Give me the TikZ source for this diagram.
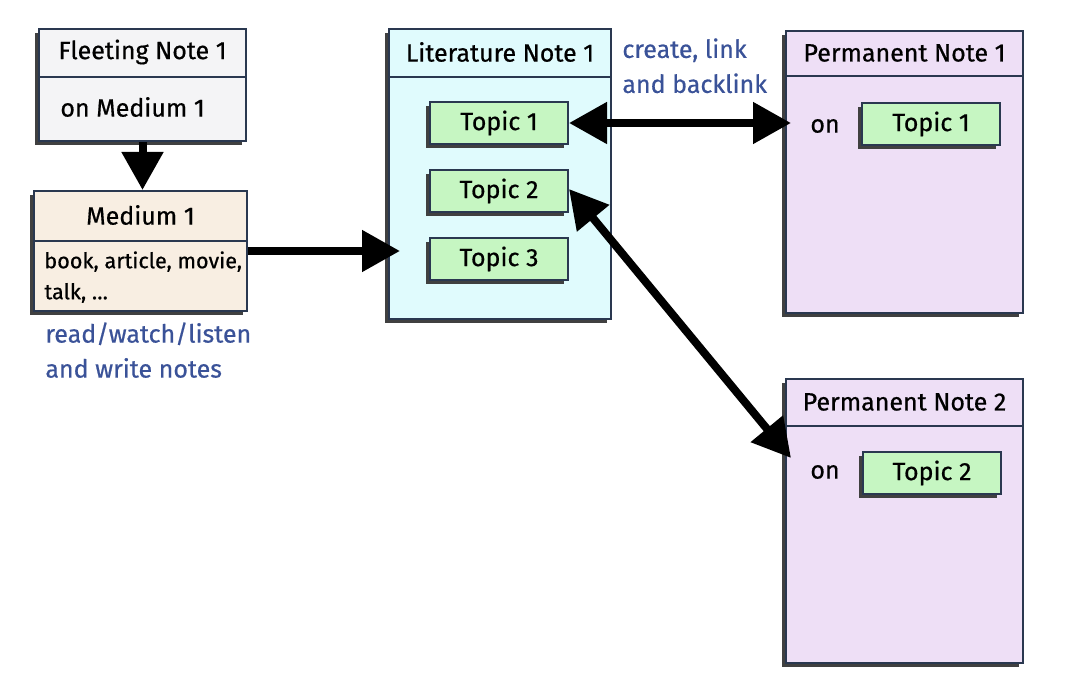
\documentclass[tikz,border=0pt]{standalone}
\usepackage{fontspec}
\setmainfont{Fira Sans}[FakeBold=0.6]
\usepackage{xcolor}
\usepackage{tikz}
\usetikzlibrary{arrows.meta, positioning, shadows}

\definecolor{boxline}{HTML}{2A3850}
\definecolor{fleetfill}{HTML}{F4F4F6}
\definecolor{mediumfill}{HTML}{F8EEE2}
\definecolor{litfill}{HTML}{E0FBFD}
\definecolor{permfill}{HTML}{EEDFF6}
\definecolor{topicgreen}{HTML}{C6F6C2}
\definecolor{noteblue}{HTML}{3A5298}
\definecolor{shadowgray}{HTML}{404040}

\begin{document}
\begin{tikzpicture}[
    x=0.5pt, y=-0.5pt,
    node distance=12pt,
    font=\fontsize{12.5}{16}\selectfont,
    notebox/.style={draw=boxline, line width=1pt, anchor=north west, inner sep=0pt,
        drop shadow={shadow xshift=-2pt, shadow yshift=-2pt, opacity=1, fill=shadowgray}},
    topicbox/.style={draw=boxline, line width=1pt, fill=topicgreen, minimum width=69pt, minimum height=21pt, inner sep=0pt,
        drop shadow={shadow xshift=-2pt, shadow yshift=-2pt, opacity=1, fill=shadowgray}},
    headline/.style={draw=boxline, line width=1pt},
    bluetext/.style={text=noteblue, align=left, anchor=north west, inner sep=0pt, font=\fontsize{12.5}{17.5}\selectfont},
    arr/.style={line width=4pt, -{Triangle[length=19pt, width=20pt]}},
    darr/.style={line width=4pt, {Triangle[length=19pt, width=20pt]}-{Triangle[length=19pt, width=20pt]}},
]
\useasboundingbox (0,0) rectangle (1083,690);

% Fleeting note
\node[notebox, fill=fleetfill, minimum width=103.5pt, minimum height=56pt] (fleet) at (38,28) {};
\draw[headline] ([yshift=-24.5pt]fleet.north west) -- ([yshift=-24.5pt]fleet.north east);
\node (fleet-title) at ([yshift=-12pt]fleet.north) {Fleeting Note 1};
\node[anchor=west, inner sep=0pt] (fleet-body) at (60,107) {on Medium 1};

% Medium
\node[notebox, fill=mediumfill, minimum width=106.5pt, minimum height=60pt] (medium) at (33,190) {};
\draw[headline] ([yshift=-25.5pt]medium.north west) -- ([yshift=-25.5pt]medium.north east);
\node (medium-title) at ([yshift=-12.5pt]medium.north) {Medium 1};
\node[anchor=north west, align=left, inner sep=0pt, font=\fontsize{10.8}{15.5}\selectfont] (medium-body) at (44,251) {book, article, movie,\\talk, \dots};
\node[bluetext] (reading) at (45,322) {read/watch/listen\\and write notes};

% Literature note with its topics
\node[notebox, fill=litfill, minimum width=111pt, minimum height=145pt] (lit) at (388,28) {};
\draw[headline] ([yshift=-24.5pt]lit.north west) -- ([yshift=-24.5pt]lit.north east);
\node (lit-title) at ([yshift=-12pt]lit.north) {Literature Note 1};
\node[topicbox] (topic1) at (499,123) {Topic 1};
\node[topicbox, below=of topic1] (topic2) {Topic 2};
\node[topicbox, below=of topic2] (topic3) {Topic 3};
\node[bluetext] (linking) at (622,38) {create, link\\and backlink};

% Permanent notes
\node[notebox, fill=permfill, minimum width=118.5pt, minimum height=141pt] (perm1) at (785,30) {};
\draw[headline] ([yshift=-23pt]perm1.north west) -- ([yshift=-23pt]perm1.north east);
\node (perm1-title) at ([yshift=-11.5pt]perm1.north) {Permanent Note 1};
\node[anchor=west, inner sep=0pt] (perm1-on) at (810,126) {on};
\node[topicbox] (perm1-topic) at (931,124) {Topic 1};

\node[notebox, fill=permfill, minimum width=118.5pt, minimum height=142pt] (perm2) at (785,378) {};
\draw[headline] ([yshift=-24pt]perm2.north west) -- ([yshift=-24pt]perm2.north east);
\node (perm2-title) at ([yshift=-12pt]perm2.north) {Permanent Note 2};
\node[anchor=west, inner sep=0pt] (perm2-on) at (810,472) {on};
\node[topicbox] (perm2-topic) at (932,473) {Topic 2};

% Arrows
\draw[arr] (fleet.south) -- (fleet.south |- medium.north);
\draw[arr] (medium.east) -- ([xshift=6pt]medium.east -| lit.west);
\draw[darr] (topic1.east) -- ([xshift=3pt]topic1.east -| perm1.west);
\coordinate (perm2-in) at ([xshift=3pt, yshift=-40pt]perm2.north west);
\draw[darr] ([yshift=1pt]topic2.east) -- (perm2-in);
\end{tikzpicture}
\end{document}
